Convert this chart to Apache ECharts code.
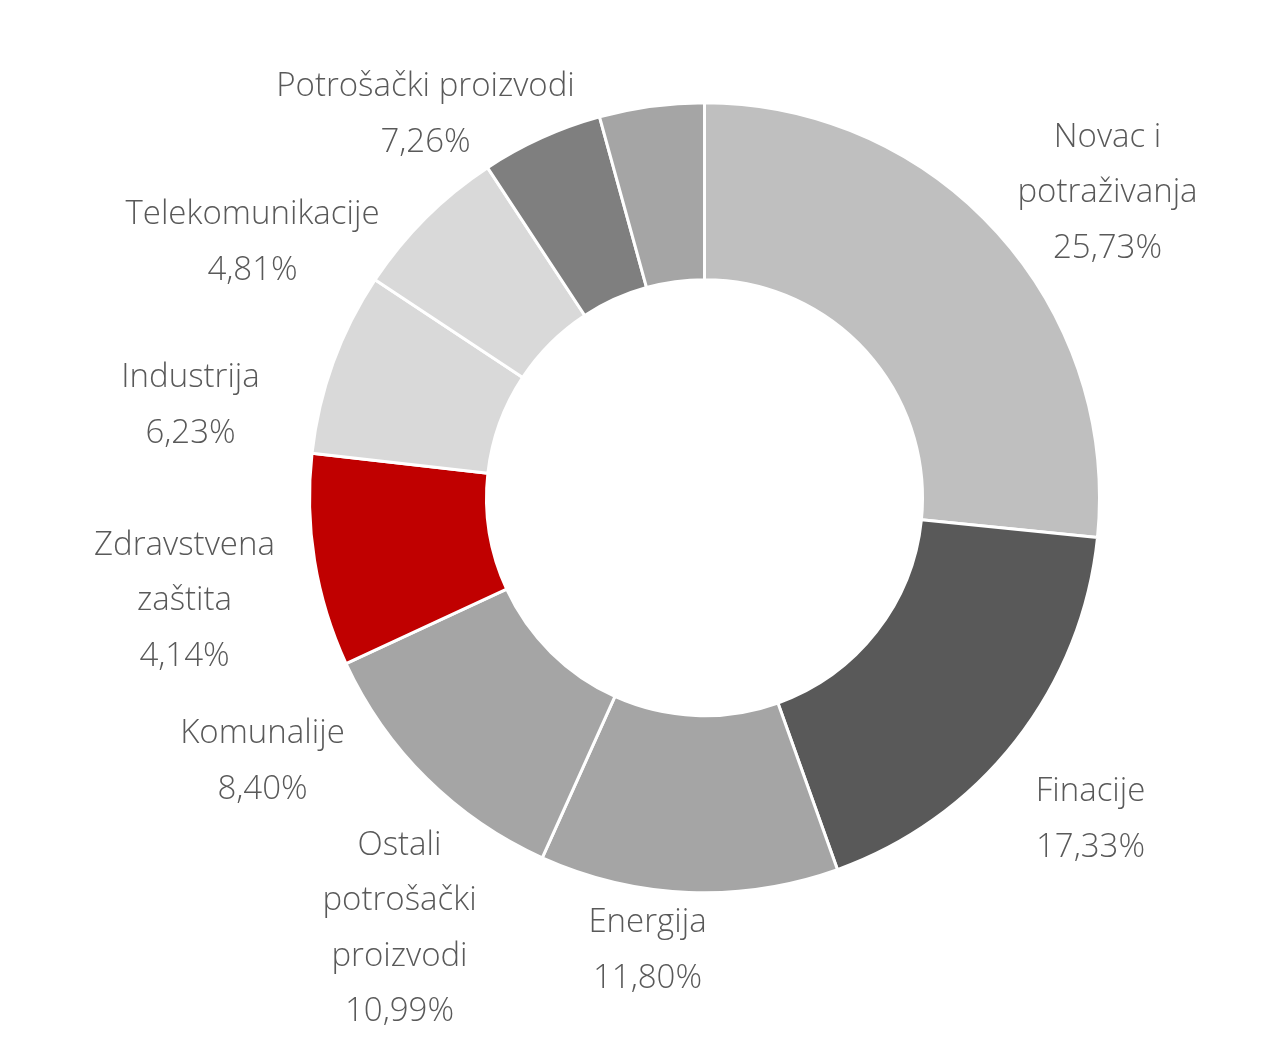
<!DOCTYPE html>
<html>
<head>
<meta charset="utf-8">
<script src="https://cdn.jsdelivr.net/npm/echarts@6/dist/echarts.min.js"></script>
<style>
html,body{margin:0;padding:0;background:#fff;}
#chart{width:1280px;height:1054px;}
</style>
</head>
<body>
<div id="chart"></div>
<script>
// Slice names (as labelled, clockwise from 12 o'clock)
var categories = ['Novac i\npotraživanja', 'Finacije', 'Energija', 'Ostali\npotrošački\nproizvodi', 'Komunalije', 'Zdravstvena\nzaštita', 'Industrija', 'Telekomunikacije', 'Potrošački proizvodi'];
// Slice sizes read from the ring
var sliceValues = [25.73, 17.33, 11.80, 10.99, 8.40, 7.26, 6.23, 4.81, 4.14];
// Percent text printed in each label
var labelShares = ['25,73%', '17,33%', '11,80%', '10,99%', '8,40%', '4,14%', '6,23%', '4,81%', '7,26%'];

// styling / layout (not data)
var colors = ['#BFBFBF', '#595959', '#A5A5A5', '#A5A5A5', '#C00000', '#D9D9D9', '#D9D9D9', '#7F7F7F', '#A5A5A5'];
// label centre offsets from the ring centre, px
var labelOffsets = [[403, -305], [386, 322], [-57, 453], [-305, 431], [-442, 264], [-520, 103], [-514, -92], [-452, -255], [-279, -383]];
var CX = 0.5504, CY = 0.4722;

var chart = echarts.init(document.getElementById('chart'));
var data = categories.map(function (c, i) {
  return { name: c, value: sliceValues[i], itemStyle: { color: colors[i] } };
});
chart.setOption({
  animation: false,
  series: [{
    type: 'pie',
    center: [(CX * 100) + '%', (CY * 100) + '%'],
    radius: [218, 395],
    startAngle: 90,
    clockwise: true,
    avoidLabelOverlap: false,
    itemStyle: { borderColor: '#ffffff', borderWidth: 3 },
    label: {
      show: true,
      position: 'outside',
      formatter: function (p) { return p.name + '\n' + labelShares[p.dataIndex]; },
      fontFamily: '"Open Sans", sans-serif',
      fontWeight: 300,
      fontSize: 33,
      lineHeight: 55.5,
      color: '#595959',
      align: 'center'
    },
    labelLine: { show: false },
    labelLayout: function (p) {
      var o = labelOffsets[p.dataIndex];
      return {
        x: chart.getWidth() * CX + o[0],
        y: chart.getHeight() * CY + o[1],
        align: 'center',
        verticalAlign: 'middle'
      };
    },
    emphasis: { disabled: true },
    data: data
  }]
});
</script>
</body>
</html>
